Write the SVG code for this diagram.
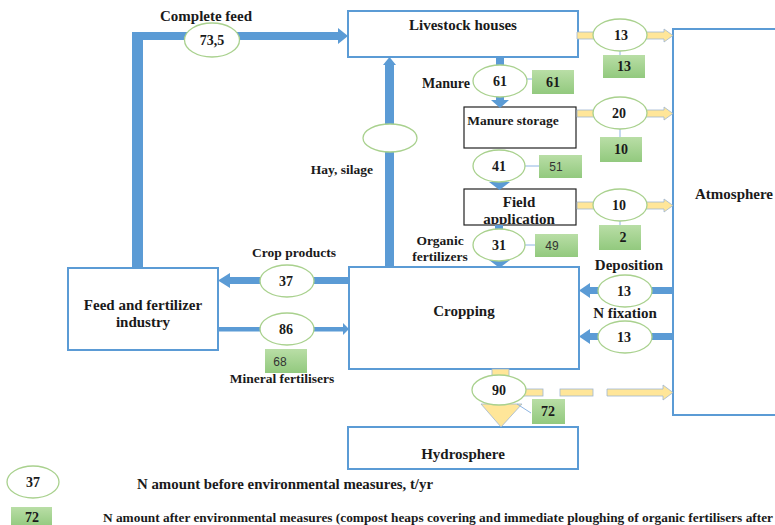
<svg xmlns="http://www.w3.org/2000/svg" width="775" height="525" viewBox="0 0 775 525">
<defs>
<linearGradient id="gg" x1="0" y1="0" x2="0" y2="1">
<stop offset="0" stop-color="#B9DEA6"/>
<stop offset="1" stop-color="#92C97E"/>
</linearGradient>
<clipPath id="fa"><rect x="464" y="189" width="112" height="35"/></clipPath>
</defs>
<style>
.box{fill:#fff;stroke:#5B9BD5;stroke-width:2}
.bbox{fill:#fff;stroke:#222;stroke-width:1.2}
.ell{fill:#fff;stroke:#A9D18E;stroke-width:1.3}
.gb{fill:url(#gg)}
.t{font-family:"Liberation Serif","Times New Roman",serif;font-weight:bold;fill:#1a1a1a;text-anchor:middle;font-size:14px}
.m{font-size:15px}
.f{font-size:13.5px}
.s{font-family:"Liberation Sans",Arial,sans-serif;fill:#333;text-anchor:middle;font-size:12px}
.blue{fill:#5B9BD5}
.yel{fill:#FFE699;stroke:#9FB6D0;stroke-width:0.8}
.ln{stroke:#8DB4E2;stroke-width:1;fill:none}
</style>
<rect width="775" height="525" fill="#fff"/>

<g id="livestock"><rect class="box" x="348" y="11" width="230" height="46"/><text class="t m" x="463" y="30">Livestock houses</text></g>
<g id="manure-storage"><rect class="bbox" x="464" y="107" width="112" height="41"/><text class="t f" x="513" y="125">Manure storage</text></g>
<g id="field-application"><rect class="bbox" x="464" y="189" width="112" height="36"/><g clip-path="url(#fa)"><text class="t m" x="519" y="207">Field</text><text class="t m" x="519" y="224">application</text></g></g>
<g id="cropping"><rect class="box" x="349" y="267" width="230" height="102"/><text class="t m" x="464" y="316">Cropping</text></g>
<g id="feed-industry"><rect class="box" x="68" y="268" width="150" height="82"/><text class="t m" x="143" y="310">Feed and fertilizer</text><text class="t m" x="143" y="327">industry</text></g>
<g id="atmosphere"><rect class="box" x="673" y="29" width="110" height="386"/><text class="t m" x="734" y="199">Atmosphere</text></g>
<g id="hydrosphere"><rect class="box" x="348" y="427" width="230" height="42"/><text class="t m" x="463" y="459">Hydrosphere</text></g>

<g id="connectors">
<rect class="blue" x="132" y="32" width="208" height="8"/>
<rect class="blue" x="132" y="32" width="11" height="236"/>
<polygon class="blue" points="338,28 348,36 338,44"/>
<rect class="blue" x="385" y="64" width="9" height="203"/>
<polygon class="blue" points="383,65 389.5,57 396,65"/>
<rect class="blue" x="496" y="57" width="8" height="10"/>
<polygon class="blue" points="496,97 504,97 504,100 509,100 500,108 491,100 496,100"/>
<polygon class="blue" points="489,182 510,182 499.5,190"/>
<rect class="blue" x="495" y="225" width="8" height="6"/>
<polygon class="blue" points="489,260 510,260 499.5,268"/>
<rect class="blue" x="228" y="277" width="121" height="7"/>
<polygon class="blue" points="230,273 218,280.5 230,288"/>
<rect class="blue" x="218" y="327" width="126" height="4.5"/>
<polygon class="blue" points="343,323 349,329 343,335"/>
<rect class="blue" x="588" y="287" width="85" height="7"/>
<polygon class="blue" points="590,283 579,290.5 590,298"/>
<rect class="blue" x="588" y="333" width="85" height="7"/>
<polygon class="blue" points="590,329 579,336.5 590,344"/>
<path class="yel" d="M577,32 H664 V29 L673,35.5 L664,42 V39 H577 Z"/>
<path class="yel" d="M577,110 H664 V107 L673,113.5 L664,120 V117 H577 Z"/>
<path class="yel" d="M577,202 H664 V199 L673,205.5 L664,212 V209 H577 Z"/>
<rect class="yel" x="492" y="369" width="17" height="9"/>
<path class="yel" d="M492,398 H509 V404 H522 L501,427 L481,404 H492 Z"/>
<rect class="yel" x="522" y="389" width="21" height="7"/>
<rect class="yel" x="560" y="389" width="33" height="7"/>
<path class="yel" d="M607,389 H663 V385 L673,392.5 L663,400 V396 H607 Z"/>
<path class="ln" d="M620,51 V55 M620,129 V137 M620,221 V225 M527,79 H532 M525,166 H539 M525,245 H535 M517,404 L531,413"/>
</g>

<g id="flow-labels">
<text class="t m" x="206" y="21">Complete feed</text>
<text class="t" x="446" y="88">Manure</text>
<text class="t f" x="342" y="174">Hay, silage</text>
<text class="t f" x="440" y="245">Organic</text>
<text class="t f" x="440" y="261">fertilizers</text>
<text class="t f" x="294" y="257">Crop products</text>
<text class="t f" x="282" y="383">Mineral fertilisers</text>
<text class="t m" x="629" y="270">Deposition</text>
<text class="t m" x="625" y="318">N fixation</text>
</g>

<g id="values-before">
<ellipse class="ell" cx="212" cy="40" rx="27.5" ry="17"/><text class="t" x="212" y="45">73,5</text>
<ellipse class="ell" cx="620" cy="35" rx="27" ry="16"/><text class="t" x="621" y="40">13</text>
<ellipse class="ell" cx="500" cy="81" rx="27" ry="16"/><text class="t" x="500" y="86">61</text>
<ellipse class="ell" cx="620" cy="113" rx="27" ry="16"/><text class="t" x="619" y="118">20</text>
<ellipse class="ell" cx="390" cy="138" rx="27" ry="14"/>
<ellipse class="ell" cx="499" cy="166" rx="26" ry="16"/><text class="t" x="499" y="171">41</text>
<ellipse class="ell" cx="620" cy="205" rx="27" ry="16"/><text class="t" x="619" y="210">10</text>
<ellipse class="ell" cx="499" cy="245" rx="26" ry="16"/><text class="t" x="499" y="250">31</text>
<ellipse class="ell" cx="287" cy="281" rx="27" ry="16"/><text class="t" x="286" y="286">37</text>
<ellipse class="ell" cx="287" cy="329" rx="27" ry="16"/><text class="t" x="286" y="334">86</text>
<ellipse class="ell" cx="625" cy="291" rx="27" ry="16"/><text class="t" x="624" y="296">13</text>
<ellipse class="ell" cx="625" cy="337" rx="27" ry="16"/><text class="t" x="624" y="342">13</text>
<ellipse class="ell" cx="499" cy="390" rx="27" ry="15"/><text class="t" x="499" y="395">90</text>
</g>

<g id="values-after">
<rect class="gb" x="603" y="55" width="42" height="23"/><text class="t" x="624" y="71">13</text>
<rect class="gb" x="532" y="70" width="42" height="24"/><text class="t" x="553" y="87">61</text>
<rect class="gb" x="600" y="137" width="42" height="25"/><text class="t" x="621" y="154">10</text>
<rect class="gb" x="539" y="155" width="43" height="23"/><text class="s" x="556" y="171">51</text>
<rect class="gb" x="599" y="225" width="42" height="25"/><text class="t" x="623" y="242">2</text>
<rect class="gb" x="535" y="234" width="43" height="23"/><text class="s" x="552" y="250">49</text>
<rect class="gb" x="265" y="349" width="42" height="24"/><text class="s" x="280" y="366">68</text>
<rect class="gb" x="532" y="399" width="33" height="25"/><text class="t" x="548" y="416">72</text>
</g>

<g id="legend">
<ellipse class="ell" cx="33" cy="482" rx="26" ry="16"/><text class="t" x="33" y="487">37</text>
<text class="t" x="137" y="489" style="text-anchor:start" textLength="296" lengthAdjust="spacingAndGlyphs">N amount before environmental measures, t/yr</text>
<rect class="gb" x="11" y="507" width="41" height="20"/><text class="t" x="32" y="522">72</text>
<text class="t" x="103" y="522" style="text-anchor:start;font-size:12.5px" textLength="670" lengthAdjust="spacingAndGlyphs">N amount after environmental  measures (compost heaps covering and immediate ploughing of organic fertilisers after</text>
</g>
</svg>
